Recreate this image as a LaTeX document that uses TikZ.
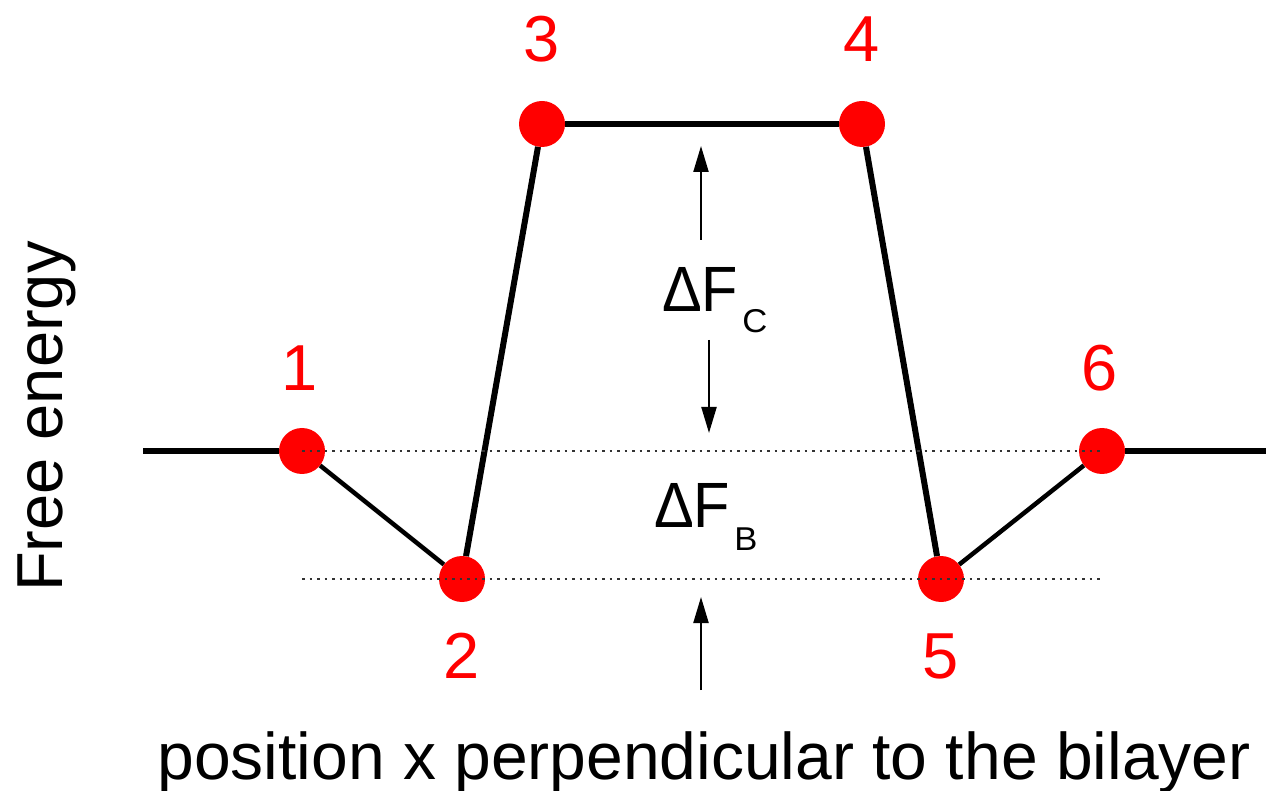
\documentclass[tikz,border=0pt]{standalone}
\usepackage{fontspec}
\setmainfont{Liberation Sans}
\usetikzlibrary{arrows.meta}
\tikzset{
  dot/.style={circle,fill=red,minimum size=46pt,inner sep=0pt},
  curve/.style={line width=5.5pt},
  lab/.style={text=red,font=\fontsize{65}{65}\selectfont,inner sep=0pt},
  guide/.style={line width=1.2pt,dash pattern=on 2.5pt off 5pt,black!80},
  arr/.style={line width=2.2pt,-{Triangle[length=26pt,width=15pt]}},
  big/.style={font=\fontsize{64}{64}\selectfont,inner sep=0pt},
}
\newcommand{\subtxt}[1]{{\fontsize{33}{33}\selectfont\scalebox{1.05}[1]{#1}}}
\begin{document}
\begin{tikzpicture}[x=1pt,y=-1pt]
\useasboundingbox (0,0) rectangle (1267,791);
% points
\node[dot] (n1) at (302,451) {};
\node[dot] (n2) at (462,579) {};
\node[dot] (n3) at (542,124) {};
\node[dot] (n4) at (862,124) {};
\node[dot] (n5) at (941,579) {};
\node[dot] (n6) at (1102,451) {};
\coordinate (L) at (143,451);
\coordinate (R) at (1266,451);
% profile
\draw[curve] (L) -- (n1);
\draw[curve,line width=4.5pt] (n1) -- (n2);
\draw[curve,line width=6pt] (n2) -- (n3);
\draw[curve] (n3) -- (n4);
\draw[curve,line width=6pt] (n4) -- (n5);
\draw[curve,line width=4.5pt] (n5) -- (n6);
\draw[curve] (n6) -- (R);
% guides
\draw[guide] (n1.center) -- (n6.center);
\coordinate (g2) at (1102,579);
\coordinate (g1) at (302,579);
\draw[guide] (g1) -- (g2);
% labels
\node[lab] (l1) at (300,368) {1};
\node[lab] (l2) at (462,656) {2};
\node[lab] (l3) at (542,39) {3};
\node[lab] (l4) at (862,39) {4};
\node[lab] (l5) at (941,656) {5};
\node[lab] (l6) at (1100,368) {6};
% arrows
\coordinate (a1s) at (701,240); \coordinate (a1e) at (701,146);
\coordinate (a2s) at (709,340); \coordinate (a2e) at (709,433);
\coordinate (a3s) at (701,690); \coordinate (a3e) at (701,597);
\draw[arr] (a1s) -- (a1e);
\draw[arr] (a2s) -- (a2e);
\draw[arr] (a3s) -- (a3e);
% delta F
\node[big,anchor=base west] (dfc) at (662,312) {\scalebox{0.93}[1]{ΔF}\hspace{4pt}\raisebox{-21pt}{\subtxt{C}}};
\node[big,anchor=base west] (dfb) at (654,527) {\scalebox{0.93}[1]{ΔF}\hspace{4pt}\raisebox{-23pt}{\subtxt{B}}};
% axis labels
\node[font=\fontsize{65}{65}\selectfont,inner sep=0pt,rotate=90,anchor=base west] (ylab) at (62,592) {Free energy};
\node[font=\fontsize{66}{66}\selectfont,inner sep=0pt,anchor=base] (xlab) at (704,779) {position x perpendicular to the bilayer};
\end{tikzpicture}
\end{document}
